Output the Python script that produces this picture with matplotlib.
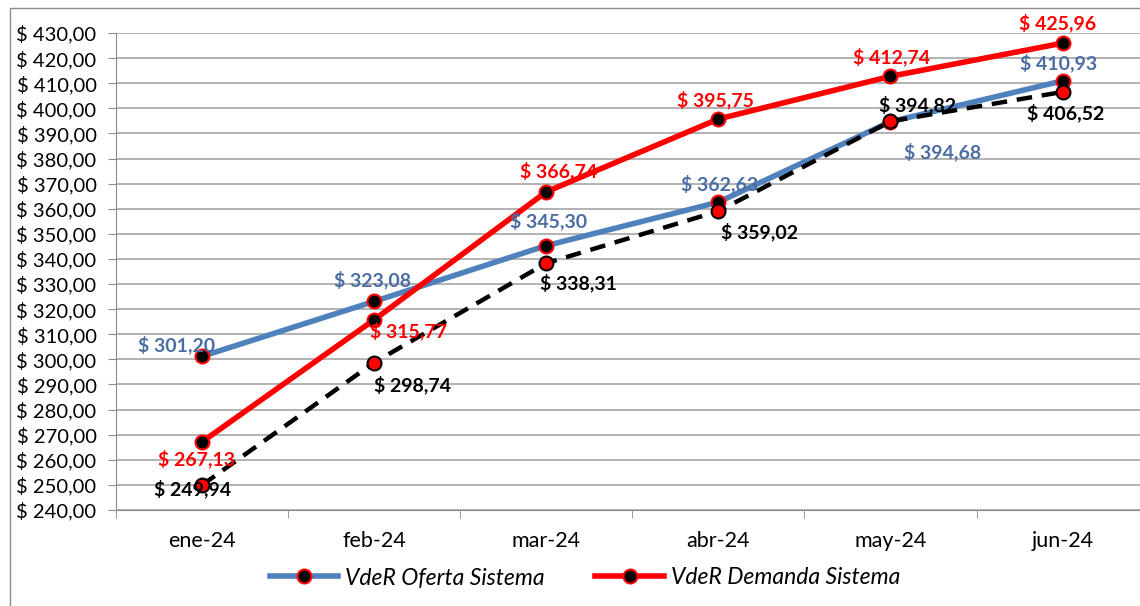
import matplotlib.pyplot as plt
from matplotlib.patches import Rectangle
from matplotlib.ticker import FuncFormatter, MultipleLocator

plt.rcParams["font.family"] = ["Lato", "DejaVu Sans"]

meses = ['ene-24', 'feb-24', 'mar-24', 'abr-24', 'may-24', 'jun-24']
oferta = [301.20, 323.08, 345.30, 362.63, 394.68, 410.93]
demanda = [267.13, 315.77, 366.74, 395.75, 412.74, 425.96]
sistema = [249.94, 298.74, 338.31, 359.02, 394.82, 406.52]

# desplazamientos de las etiquetas en pixeles (dx, dy)
off_oferta = [(-25, 11), (-2, 22), (2, 25), (1, 18), (52, -30), (-4, 18)]
off_demanda = [(-6, -17), (34, -11), (12, 21), (-3, 19), (1, 19), (-5, 20)]
off_sistema = [(-9, -4), (38, -22), (32, -20), (41, -21), (27, 16), (3, -21)]

AZUL = '#4f81bd'
AZUL_TXT = '#4a6da3'
ROJO = '#ff0000'


def fmt(v):
    return '$ ' + f'{v:.2f}'.replace('.', ',')


def main():
    fig = plt.figure(figsize=(11.4, 6.06), dpi=100)
    fig.patches.append(Rectangle((10 / 1140, -0.01), 1.1, 1 - 8 / 606 + 0.01,
                                 transform=fig.transFigure, fill=False,
                                 edgecolor='#8c8c8c', linewidth=1))
    ax = fig.add_axes([116 / 1140, 1 - 510 / 606, 1 - 116 / 1140, (510 - 33) / 606])
    x = list(range(len(meses)))

    ax.plot(x, oferta, color=AZUL, lw=4, marker='o', ms=10, mfc='black',
            mec=ROJO, mew=1.5, zorder=3, label='VdeR Oferta Sistema')
    ax.plot(x, demanda, color=ROJO, lw=4, marker='o', ms=10, mfc='black',
            mec=ROJO, mew=1.5, zorder=4, label='VdeR Demanda Sistema')
    ax.plot(x, sistema, color='black', lw=3.2, ls=(0, (3.5, 2.2)), marker='o', ms=10,
            mfc=ROJO, mec='black', mew=1.5, zorder=5)

    for vals, offs, col in ((oferta, off_oferta, AZUL_TXT), (demanda, off_demanda, ROJO),
                            (sistema, off_sistema, 'black')):
        for i, v in enumerate(vals):
            ax.annotate(fmt(v), (i, v), xytext=offs[i], textcoords='offset pixels',
                        ha='center', va='center', color=col, fontsize=14,
                        fontweight='bold', zorder=6)

    ax.set_xlim(-0.5, 5.45)
    ax.set_ylim(240, 430)
    ax.yaxis.set_major_locator(MultipleLocator(10))
    ax.yaxis.set_major_formatter(FuncFormatter(lambda v, p: fmt(v)))
    ax.set_xticks(x)
    ax.set_xticklabels(meses)
    ax.set_xticks([i + 0.5 for i in range(-1, 5)], minor=True)
    ax.tick_params(axis='x', which='major', length=0, pad=15, labelsize=15.5)
    ax.tick_params(axis='x', which='minor', length=6, color='#8c8c8c')
    ax.tick_params(axis='y', length=6, color='#8c8c8c', labelsize=14.5, pad=8)
    ax.grid(axis='y', color='#a6a6a6', lw=1.2)
    for s in ('top', 'right'):
        ax.spines[s].set_visible(False)
    for s in ('left', 'bottom'):
        ax.spines[s].set_color('#8c8c8c')
    ax.set_axisbelow(True)

    fig.legend(loc='center', bbox_to_anchor=(585 / 1140, 1 - 578 / 606),
               ncol=2, frameon=False, handlelength=3.0, handletextpad=0.3,
               columnspacing=2.2, prop={'style': 'italic', 'size': 16.5})
    fig.savefig('out.png', dpi=100)


if __name__ == '__main__':
    main()
